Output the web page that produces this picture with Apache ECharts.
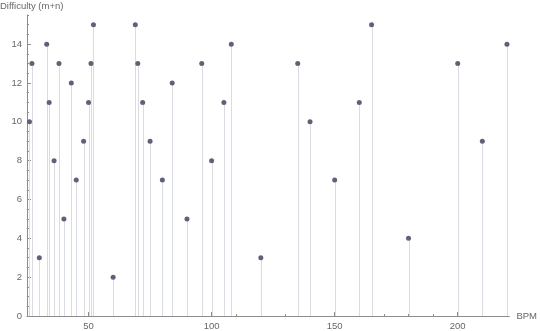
<!DOCTYPE html>
<html><head><meta charset="utf-8">
<script src="https://cdn.jsdelivr.net/npm/echarts@6/dist/echarts.min.js"></script>
<style>html,body{margin:0;padding:0;background:#fff}#c{width:540px;height:331px}</style>
</head><body><div id="c"></div>
<script>
const bpm = [26,27,30,33,34,36,38,40,43,45,48,50,51,52,60,69,70,72,75,80,84,90,96,100,105,108,120,135,140,150,160,165,180,200,210,220];
const difficulty = [10,13,3,14,11,8,13,5,12,7,9,11,13,15,2,15,13,11,9,7,12,5,13,8,11,14,3,13,10,7,11,15,4,13,9,14];
const xMajorTicks = [50,100,150,200];
const xMinorTicks = [30,40,60,70,80,90,110,120,130,140,160,170,180,190,210,220];
const yMinorTicks = [];
for (let v = 0.5; v <= 15.5; v += 0.5) yMinorTicks.push(v);
const xTitle = 'BPM';
const yTitle = 'Difficulty (m+n)';

const pts = bpm.map((b, i) => [b, difficulty[i]]);
const axisColor = '#8c8c8c';
const labelStyle = {color: '#666', fontSize: 9.5, fontFamily: 'Liberation Sans'};

const chart = echarts.init(document.getElementById('c'), null, {renderer: 'canvas'});
chart.setOption({
  animation: false,
  grid: {left: 27, right: 26, top: 15, bottom: 14},
  xAxis: [{
    type: 'value', min: 25, max: 221,
    axisLine: {show: true, onZero: false, lineStyle: {color: axisColor, width: 1}},
    axisTick: {show: true, inside: true, length: 4, customValues: xMajorTicks, lineStyle: {color: axisColor}},
    axisLabel: {show: true, customValues: xMajorTicks, margin: 5, ...labelStyle},
    splitLine: {show: false},
    name: xTitle, nameLocation: 'end', nameGap: 7,
    nameTextStyle: {...labelStyle, align: 'left', verticalAlign: 'middle'}
  }, {
    type: 'value', min: 25, max: 221, position: 'bottom',
    axisLine: {show: false},
    axisTick: {show: true, inside: true, length: 2, customValues: xMinorTicks, lineStyle: {color: axisColor}},
    axisLabel: {show: false}, splitLine: {show: false}
  }],
  yAxis: [{
    type: 'value', min: 0, max: 15.5, interval: 2,
    axisLine: {show: true, onZero: false, lineStyle: {color: axisColor, width: 1}},
    axisTick: {show: true, inside: true, length: 4, lineStyle: {color: axisColor}},
    axisLabel: {show: true, margin: 5, showMaxLabel: false, ...labelStyle},
    splitLine: {show: false}
  }, {
    type: 'value', min: 0, max: 15.5, position: 'left',
    axisLine: {show: false},
    axisTick: {show: true, inside: true, length: 2, customValues: yMinorTicks, lineStyle: {color: axisColor}},
    axisLabel: {show: false}, splitLine: {show: false}
  }],
  graphic: [{
    type: 'text', left: 0, top: 1,
    style: {text: yTitle, fill: '#666', font: '9.5px "Liberation Sans"'}
  }],
  series: [{
    type: 'custom',
    data: pts,
    renderItem: function (params, api) {
      const top = api.coord([api.value(0), api.value(1)]);
      const bot = api.coord([api.value(0), 0]);
      return {
        type: 'line',
        shape: {x1: Math.round(top[0]) + 0.5, y1: top[1], x2: Math.round(bot[0]) + 0.5, y2: bot[1]},
        style: {stroke: '#d9dde3', lineWidth: 1}
      };
    },
    silent: true, z: 1
  }, {
    type: 'scatter',
    data: pts,
    symbolSize: 5,
    itemStyle: {color: '#5f6179', opacity: 1},
    z: 3
  }]
});
</script></body></html>
